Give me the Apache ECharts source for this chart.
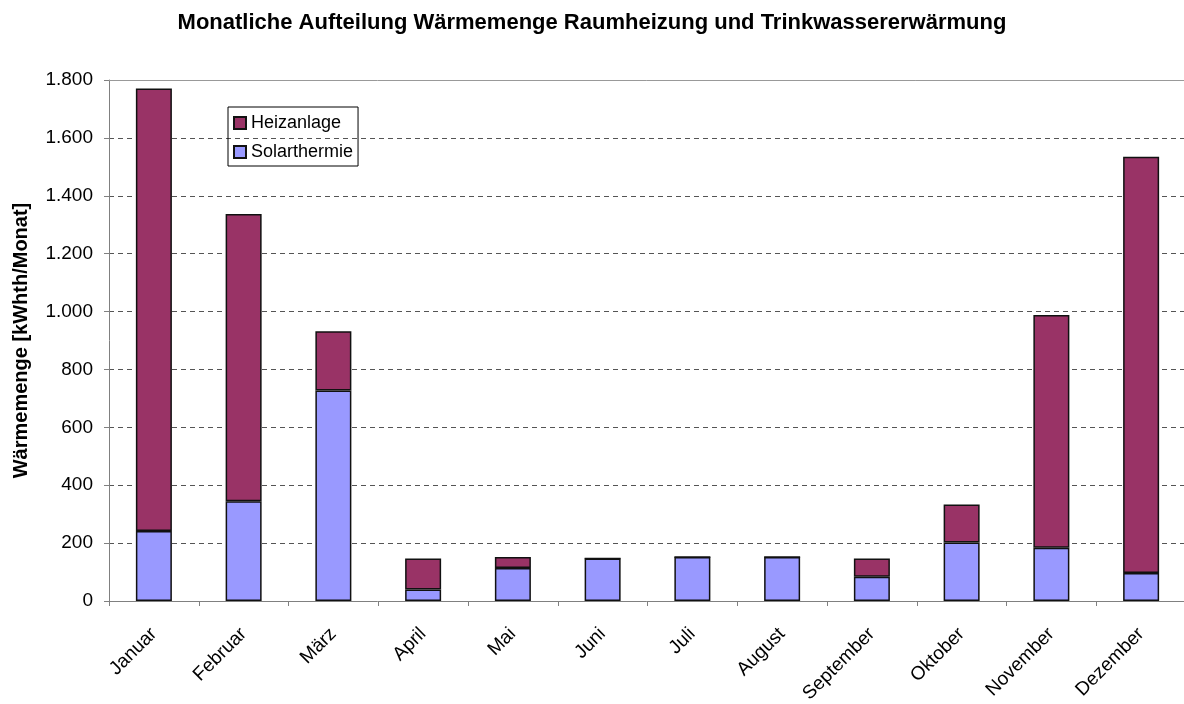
<!DOCTYPE html>
<html>
<head>
<meta charset="utf-8">
<title>Wärmemenge</title>
<script src="https://cdn.jsdelivr.net/npm/echarts@6/dist/echarts.min.js"></script>
<style>
  html, body { margin: 0; padding: 0; background: #fff; }
  #main { width: 1184px; height: 704px; }
</style>
</head>
<body>
<div id="main"></div>
<script>
var months = ['Januar', 'Februar', 'März', 'April', 'Mai', 'Juni', 'Juli', 'August', 'September', 'Oktober', 'November', 'Dezember'];
// Solarthermie share (bottom of stack)
var solar = [242, 345, 727, 40, 114, 147, 152, 152, 84, 202, 184, 97];
// Heizanlage share (top of stack)
var heiz = [1529, 992, 205, 107, 38, 0, 0, 0, 63, 131, 804, 1438];

var myChart = echarts.init(document.getElementById('main'));

function deNum(v) {
    // 1800 -> 1.800
    return String(v).replace(/\B(?=(\d{3})+(?!\d))/g, '.');
}

var option = {
    animation: false,
    textStyle: { fontFamily: 'Liberation Sans, Arial, sans-serif' },
    title: {
        text: 'Monatliche Aufteilung Wärmemenge Raumheizung und Trinkwassererwärmung',
        left: 'center',
        top: 7,
        textStyle: { fontSize: 22, fontWeight: 'bold', color: '#000' }
    },
    legend: {
        data: ['Heizanlage', 'Solarthermie'],
        orient: 'vertical',
        left: 228,
        top: 107,
        padding: [7, 5, 5, 5],
        itemGap: 11,
        itemWidth: 12,
        itemHeight: 12,
        icon: 'rect',
        borderColor: '#000',
        borderWidth: 1,
        textStyle: { fontSize: 18, color: '#000' }
    },
    grid: {
        left: 109,
        top: 80,
        width: 1077,
        height: 521,
        outerBoundsMode: 'none'
    },
    xAxis: [{
        type: 'category',
        data: months,
        axisLine: { lineStyle: { color: '#808080', width: 1 } },
        axisTick: { show: true, length: 5, lineStyle: { color: '#808080' } },
        axisLabel: { rotate: 45, fontSize: 19, color: '#000', margin: 30 }
    }, {
        type: 'category',
        position: 'top',
        data: months,
        axisLine: { show: true, lineStyle: { color: '#999', width: 1 } },
        axisTick: { show: false },
        axisLabel: { show: false }
    }],
    yAxis: {
        type: 'value',
        min: 0,
        max: 1800,
        interval: 200,
        name: 'Wärmemenge [kWhth/Monat]',
        nameLocation: 'middle',
        nameGap: 78,
        nameTextStyle: { fontSize: 20, fontWeight: 'bold', color: '#000' },
        axisLine: { show: true, lineStyle: { color: '#808080' } },
        axisTick: { show: true, length: 5, lineStyle: { color: '#808080' } },
        axisLabel: {
            fontSize: 19, color: '#000', margin: 16,
            formatter: function (v) { return deNum(v); }
        },
        splitLine: { lineStyle: { color: '#555', type: [5, 4], width: 1 } }
    },
    series: [{
        name: 'Solarthermie',
        type: 'bar',
        stack: 'w',
        barWidth: 36,
        data: solar,
        itemStyle: { color: '#9999FF', borderColor: '#111', borderWidth: 1.5 }
    }, {
        name: 'Heizanlage',
        type: 'bar',
        stack: 'w',
        barWidth: 36,
        data: heiz,
        itemStyle: { color: '#993366', borderColor: '#111', borderWidth: 1.5 }
    }]
};

myChart.setOption(option);
</script>
</body>
</html>
